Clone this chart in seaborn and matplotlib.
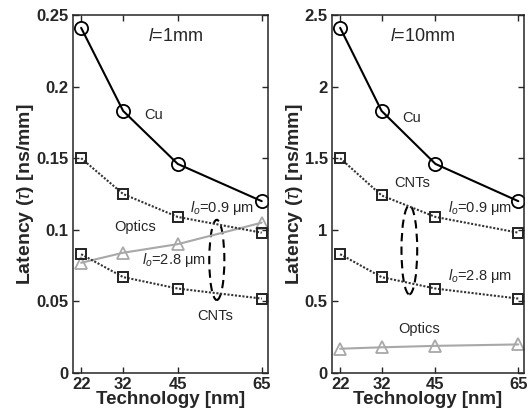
import pandas as pd
import matplotlib.pyplot as plt
import seaborn as sns
from matplotlib.patches import Ellipse

# Datos
tech = [22, 32, 45, 65]

cu_1mm = [0.241, 0.183, 0.146, 0.120]
cnt09_1mm = [0.150, 0.125, 0.109, 0.098]
cnt28_1mm = [0.083, 0.067, 0.059, 0.052]
optics_1mm = [0.077, 0.084, 0.090, 0.105]

cu_10mm = [2.41, 1.83, 1.46, 1.20]
cnt09_10mm = [1.50, 1.24, 1.09, 0.98]
cnt28_10mm = [0.83, 0.67, 0.59, 0.52]
optics_10mm = [0.17, 0.18, 0.19, 0.20]

yticks_1mm = [0, 0.05, 0.1, 0.15, 0.2, 0.25]
yticks_10mm = [0, 0.5, 1, 1.5, 2, 2.5]

sns.set_style("ticks")
plt.rcParams["font.family"] = ["Liberation Sans", "DejaVu Sans"]
plt.rcParams["mathtext.fontset"] = "custom"
plt.rcParams["mathtext.it"] = "Liberation Sans:italic"
plt.rcParams["mathtext.rm"] = "Liberation Sans"
plt.rcParams["mathtext.bf"] = "Liberation Sans:bold"

fig = plt.figure(figsize=(5.31, 4.15), dpi=100)
ax1 = fig.add_axes([0.137, 0.101, 0.367, 0.863])
ax2 = fig.add_axes([0.625, 0.101, 0.362, 0.863])


def draw(ax, cu, c09, c28, opt):
    df = pd.DataFrame({"tech": tech, "cu": cu, "c09": c09, "c28": c28, "opt": opt})
    sns.lineplot(data=df, x="tech", y="opt", ax=ax, color="#a8a8a8", lw=1.5,
                 marker="^", ms=8, mfc="none", mec="#a8a8a8", mew=1.3)
    for col in ["c09", "c28"]:
        sns.lineplot(data=df, x="tech", y=col, ax=ax, color="#333333", lw=1.5,
                     linestyle=(0, (1, 0.8)), marker="s", ms=7, mfc="none",
                     mec="#222222", mew=1.4)
    sns.lineplot(data=df, x="tech", y="cu", ax=ax, color="black", lw=1.5,
                 marker="o", ms=9.5, mfc="none", mec="black", mew=1.3)


draw(ax1, cu_1mm, cnt09_1mm, cnt28_1mm, optics_1mm)
draw(ax2, cu_10mm, cnt09_10mm, cnt28_10mm, optics_10mm)

for ax, yt in [(ax1, yticks_1mm), (ax2, yticks_10mm)]:
    ax.set_xlim(20, 66.4)
    ax.set_ylim(0, yt[-1])
    ax.set_xticks(tech)
    ax.set_xticklabels([str(t) for t in tech], fontsize=12, fontweight="bold")
    ax.set_yticks(yt)
    ax.set_yticklabels([f"{v:g}" for v in yt], fontsize=12, fontweight="bold")
    ax.tick_params(direction="in", top=True, right=True, length=4, width=1, pad=3)
    ax.set_xlabel("Technology [nm]", fontsize=13.5, fontweight="bold", labelpad=-1)
    ax.set_ylabel("Latency ($\\tau$) [ns/mm]", fontsize=14, fontweight="bold", labelpad=0)
    for s in ax.spines.values():
        s.set_linewidth(1.1)

# Anotaciones panel izquierdo
ax1.text(38, 0.235, "$l$=1mm", fontsize=13, va="center")
ax1.text(37, 0.18, "Cu", fontsize=10.5, va="center")
ax1.text(47.8, 0.115, "$l_o$=0.9 μm", fontsize=10.5, va="center")
ax1.text(30, 0.102, "Optics", fontsize=10.5, va="center")
ax1.text(36.5, 0.079, "$l_o$=2.8 μm", fontsize=10.5, va="center")
ax1.text(54, 0.04, "CNTs", fontsize=10.5, va="center", ha="center")
ax1.add_patch(Ellipse((54.3, 0.079), 3.6, 0.056, fill=False, ec="black",
                      lw=1.5, ls=(0, (4, 2.5))))

# Anotaciones panel derecho
ax2.text(34, 2.35, "$l$=10mm", fontsize=13, va="center")
ax2.text(37, 1.78, "Cu", fontsize=10.5, va="center")
ax2.text(39.3, 1.33, "CNTs", fontsize=10.5, va="center", ha="center")
ax2.text(48, 1.15, "$l_o$=0.9 μm", fontsize=10.5, va="center")
ax2.text(48, 0.68, "$l_o$=2.8 μm", fontsize=10.5, va="center")
ax2.text(36, 0.31, "Optics", fontsize=10.5, va="center")
ax2.add_patch(Ellipse((38.7, 0.86), 3.8, 0.62, fill=False, ec="black",
                      lw=1.5, ls=(0, (4, 2.5))))

fig.savefig("out.png", dpi=100)
